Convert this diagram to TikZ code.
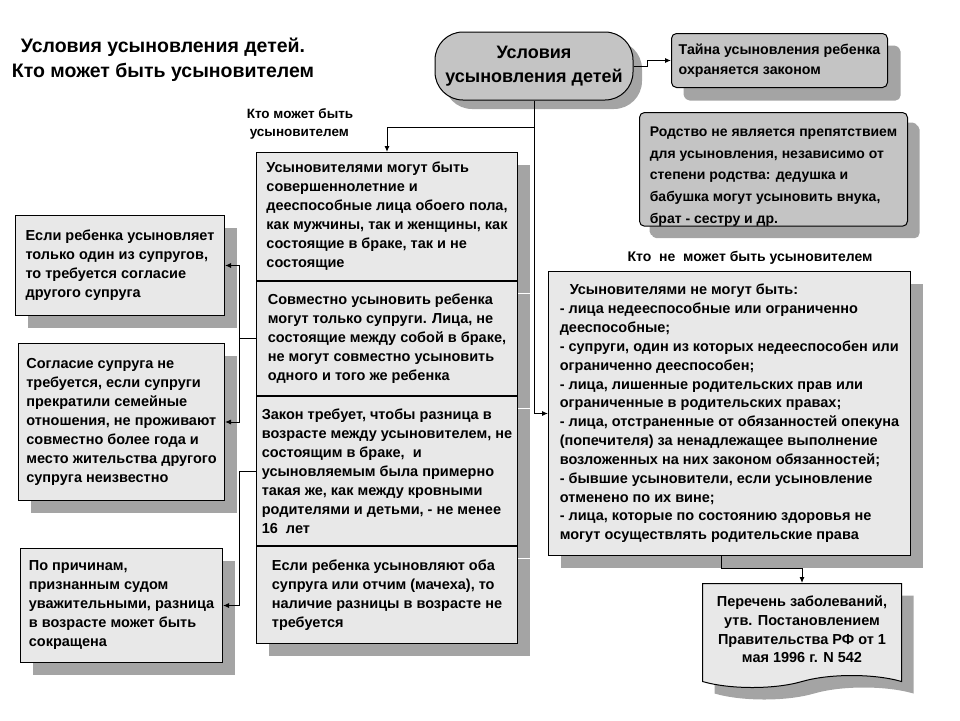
\documentclass[tikz,border=0pt]{standalone}
\usepackage{fontspec}
\setmainfont{Liberation Sans}
\usetikzlibrary{arrows.meta,positioning,shadows,shapes.symbols}

\definecolor{boxfill}{HTML}{E8E8E8}
\definecolor{headfill}{HTML}{C4C4C4}
\definecolor{shadowgray}{HTML}{A4A4A4}

\begin{document}
\begin{tikzpicture}[x=1pt, y=-1pt, font=\bfseries\fontsize{14.5}{19}\selectfont,
    >={Latex[length=6pt,width=5pt]}, line width=1pt,
    shd/.style={drop shadow={shadow xshift=#1, shadow yshift=-#1, fill=shadowgray, opacity=1}},
    shd/.default=12pt,
    card/.style={draw, fill=boxfill, shd, align=left, inner xsep=0pt, inner ysep=0pt, anchor=north west},
    part/.style={draw, fill=boxfill, shd, align=left, minimum width=261pt, inner xsep=0pt, inner ysep=0pt}]
  \useasboundingbox (0,0) rectangle (960,720);
  % title
  \node[font=\bfseries\fontsize{19.5}{25}\selectfont, align=center] (title) at (163,60)
    {Условия усыновления детей.\\Кто может быть усыновителем};
  % top of the chart
  \node[draw, fill=headfill, rounded corners=28pt, minimum width=198pt, minimum height=68pt,
    align=center, font=\bfseries\fontsize{18}{24}\selectfont, shd=9pt] (st) at (534,66)
    {Условия\\усыновления детей};
  \node[card, fill=headfill, rounded corners=5pt, minimum width=216pt, minimum height=54pt,
    font=\bfseries\fontsize{14.2}{20}\selectfont, shd=13pt] (secret) at (671,33)
    {Тайна усыновления ребенка\\охраняется законом};
  \node[card, fill=headfill, rounded corners=5pt, minimum width=268pt, minimum height=111pt,
    font=\bfseries\fontsize{14}{21.7}\selectfont, shd=10pt] (kin) at (639,112)
    {\rule{0pt}{24pt}Родство не является препятствием\\для усыновления, независимо от\\степени родства: дедушка и\\бабушка могут усыновить внука,\\брат - сестру и др.};
  % who can adopt
  \node[font=\bfseries\fontsize{13.5}{18}\selectfont, align=left] (canlbl) at (300,124)
    {Кто может быть\\\hspace*{3pt}усыновителем};
  \node[part, minimum height=128pt, anchor=north west] (s1) at (256,152)
    {Усыновителями могут быть\\совершеннолетние и\\дееспособные лица обоего пола,\\как мужчины, так и женщины, как\\состоящие в браке, так и не\\состоящие};
  \node[part, minimum height=114pt, below=0pt of s1] (s2)
    {Совместно усыновить ребенка\\могут только супруги. Лица, не\\состоящие между собой в браке,\\не могут совместно усыновить\\одного и того же ребенка};
  \node[part, minimum height=149pt, below=0pt of s2] (s3)
    {Закон требует, чтобы разница в\\возрасте между усыновителем, не\\состоящим в браке,\ \ и\\усыновляемым была примерно\\такая же, как между кровными\\родителями и детьми, - не менее\\16\ \ лет};
  \node[part, minimum height=97pt, below=0pt of s3] (s4)
    {Если ребенка усыновляют оба\\супруга или отчим (мачеха), то\\наличие разницы в возрасте не\\требуется};
  % left column
  \node[card, minimum width=209pt, minimum height=100pt] (spouse) at (15,215)
    {Если ребенка усыновляет\\только один из супругов,\\то требуется согласие\\другого супруга};
  \node[card, minimum width=206pt, minimum height=157pt] (nocons) at (18,343)
    {Согласие супруга не\\требуется, если супруги\\прекратили семейные\\отношения, не проживают\\совместно более года и\\место жительства другого\\супруга неизвестно};
  \node[card, minimum width=202pt, minimum height=114pt] (court) at (20,548)
    {По причинам,\\признанным судом\\уважительными, разница\\в возрасте может быть\\сокращена};
  % who cannot adopt
  \node[font=\bfseries\fontsize{14}{18}\selectfont] (cantlbl) at (750,258)
    {Кто\ \ не\ \ может быть усыновителем};
  \node[card, minimum width=362pt, minimum height=284pt,
    font=\bfseries\fontsize{14.5}{18.85}\selectfont] (cant) at (548,271)
    {\hspace*{10pt}Усыновителями не могут быть:\\- лица недееспособные или ограниченно\\дееспособные;\\- супруги, один из которых недееспособен или\\ограниченно дееспособен;\\- лица, лишенные родительских прав или\\ограниченные в родительских правах;\\- лица, отстраненные от обязанностей опекуна\\(попечителя) за ненадлежащее выполнение\\возложенных на них законом обязанностей;\\- бывшие усыновители, если усыновление\\отменено по их вине;\\- лица, которые по состоянию здоровья не\\могут осуществлять родительские права};
  \node[tape, tape bend top=none, tape bend height=12pt, draw, fill=boxfill, shd,
    minimum width=199pt, minimum height=104pt, align=center, anchor=north,
    font=\bfseries\fontsize{14.5}{18.7}\selectfont] (doc) at (802,583)
    {Перечень заболеваний,\\утв. Постановлением\\Правительства РФ от 1\\мая 1996 г. N 542};
  % connectors
  \path (st.south) ++(0,27) coordinate (fork);
  \draw[->] (st.east) -- ++(14,0) |- (secret.west);
  \draw[->] (st.south) |- (cant.west);
  \draw[->] (fork) -| (s1.north);
  \draw[->] (s2.west) -- ++(-17,0) coordinate (jn) |- (spouse.east);
  \draw[->] (jn) |- (nocons.east);
  \draw[->] (s3.west) -- ++(-17,0) |- (court.east);
  \draw[->] ([xshift=-8pt]cant.south) -- ++(0,12) -| (doc.north);
\end{tikzpicture}
\end{document}
